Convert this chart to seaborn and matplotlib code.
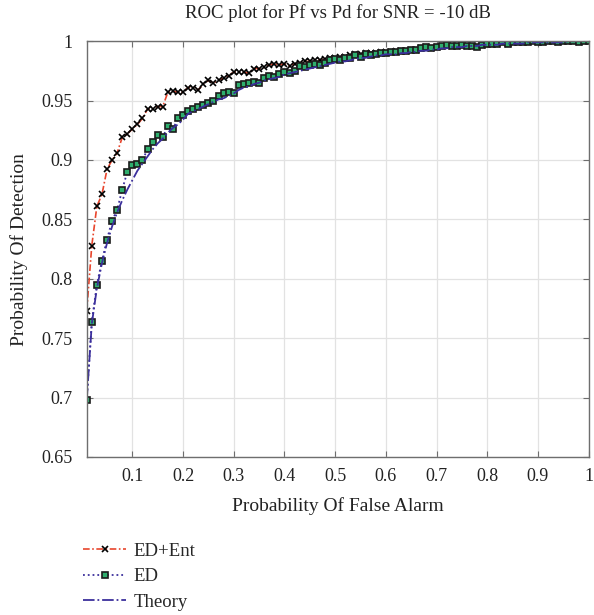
import matplotlib
matplotlib.use("Agg")
import matplotlib.pyplot as plt
import seaborn as sns
import pandas as pd
import numpy as np

# ---------------- data ----------------
pf = [round(0.01 * i, 2) for i in range(1, 101)]

pd_ed_ent = [
    0.773, 0.828, 0.861, 0.871, 0.892, 0.900, 0.906, 0.919, 0.922, 0.926,
    0.930, 0.935, 0.943, 0.943, 0.945, 0.945, 0.957, 0.958, 0.957, 0.957,
    0.961, 0.961, 0.959, 0.964, 0.967, 0.965, 0.967, 0.969, 0.971, 0.974,
    0.974, 0.974, 0.973, 0.977, 0.977, 0.978, 0.980, 0.981, 0.980, 0.981,
    0.979, 0.981, 0.982, 0.983, 0.983, 0.984, 0.984, 0.985, 0.986, 0.986,
    0.987, 0.987, 0.988, 0.989, 0.989, 0.990, 0.990, 0.990, 0.991, 0.991,
    0.991, 0.992, 0.992, 0.992, 0.993, 0.993, 0.994, 0.995, 0.994, 0.995,
    0.996, 0.997, 0.996, 0.996, 0.997, 0.996, 0.996, 0.996, 0.997, 0.998,
    0.998, 0.998, 0.999, 0.998, 0.999, 0.999, 0.999, 0.999, 1.000, 0.999,
    0.999, 1.000, 1.000, 0.999, 1.000, 1.000, 1.000, 0.999, 1.000, 1.000,
]

pd_ed = [
    0.698, 0.764, 0.795, 0.815, 0.833, 0.849, 0.858, 0.875, 0.890, 0.896,
    0.897, 0.900, 0.909, 0.915, 0.921, 0.919, 0.929, 0.926, 0.935, 0.938,
    0.941, 0.943, 0.945, 0.946, 0.948, 0.950, 0.954, 0.956, 0.957, 0.956,
    0.963, 0.964, 0.965, 0.966, 0.965, 0.969, 0.971, 0.970, 0.972, 0.974,
    0.973, 0.975, 0.979, 0.978, 0.980, 0.981, 0.980, 0.982, 0.984, 0.985,
    0.984, 0.986, 0.986, 0.988, 0.987, 0.989, 0.988, 0.989, 0.990, 0.990,
    0.991, 0.991, 0.992, 0.992, 0.993, 0.993, 0.994, 0.995, 0.994, 0.995,
    0.996, 0.997, 0.996, 0.996, 0.997, 0.996, 0.996, 0.995, 0.997, 0.998,
    0.998, 0.998, 0.999, 0.998, 0.999, 0.999, 0.999, 0.999, 1.000, 0.999,
    0.999, 1.000, 1.000, 0.999, 1.000, 1.000, 1.000, 0.999, 1.000, 1.000,
]

pd_theory = [
    0.698, 0.762, 0.792, 0.813, 0.830, 0.844, 0.856, 0.866, 0.875, 0.883,
    0.891, 0.897, 0.903, 0.909, 0.914, 0.918, 0.923, 0.927, 0.930, 0.934,
    0.939, 0.941, 0.943, 0.945, 0.947, 0.949, 0.951, 0.952, 0.954, 0.956,
    0.959, 0.961, 0.962, 0.964, 0.965, 0.967, 0.968, 0.969, 0.970, 0.972,
    0.973, 0.974, 0.975, 0.976, 0.977, 0.978, 0.979, 0.980, 0.981, 0.982,
    0.983, 0.983, 0.984, 0.985, 0.986, 0.986, 0.987, 0.988, 0.988, 0.989,
    0.989, 0.989, 0.990, 0.990, 0.991, 0.991, 0.992, 0.992, 0.993, 0.993,
    0.994, 0.994, 0.995, 0.995, 0.995, 0.996, 0.996, 0.996, 0.997, 0.997,
    0.997, 0.997, 0.998, 0.998, 0.998, 0.998, 0.998, 0.999, 0.999, 0.999,
    0.999, 0.999, 0.999, 0.999, 0.999, 1.000, 1.000, 1.000, 1.000, 1.000,
]

x_ticks = [0.1, 0.2, 0.3, 0.4, 0.5, 0.6, 0.7, 0.8, 0.9, 1.0]
x_tick_labels = ["0.1", "0.2", "0.3", "0.4", "0.5", "0.6", "0.7", "0.8", "0.9", "1"]
y_ticks = [0.65, 0.7, 0.75, 0.8, 0.85, 0.9, 0.95, 1.0]
y_tick_labels = ["0.65", "0.7", "0.75", "0.8", "0.85", "0.9", "0.95", "1"]

title = "ROC plot for Pf vs Pd for SNR = -10 dB"
xlabel = "Probability Of False Alarm"
ylabel = "Probability Of Detection"
labels = ["ED+Ent", "ED", "Theory"]

df = pd.DataFrame({"pf": pf, "ent": pd_ed_ent, "ed": pd_ed, "th": pd_theory})

# ---------------- style ----------------
sns.set_theme(style="whitegrid")
plt.rcParams["font.family"] = ["Liberation Serif", "DejaVu Serif"]

fig = plt.figure(figsize=(5.94, 6.15), dpi=100)
ax = fig.add_axes([0.146, 0.257, 0.845, 0.676])

red = "#e8452c"
blue = "#3b2f9c"
green = "#2fae6e"

sns.lineplot(data=df, x="pf", y="ent", ax=ax, color=red, linestyle=(0, (4, 1.5, 1, 1.5)),
             linewidth=1.2, marker="x", markersize=4.2, markeredgecolor="black",
             markeredgewidth=1.2, label=labels[0])
sns.lineplot(data=df, x="pf", y="ed", ax=ax, color=blue, linestyle=":", linewidth=1.3,
             marker="s", markersize=4.6, markerfacecolor=green, markeredgecolor="#1b1b1b",
             markeredgewidth=1.2, label=labels[1])
sns.lineplot(data=df, x="pf", y="th", ax=ax, color=blue, linestyle="-.", linewidth=1.3,
             label=labels[2])

ax.set_xlim(0.01, 1.0)
ax.set_ylim(0.65, 1.0)
ax.set_xticks(x_ticks)
ax.set_xticklabels(x_tick_labels)
ax.set_yticks(y_ticks)
ax.set_yticklabels(y_tick_labels)

ax.grid(True, color="#e2e2e2", linewidth=0.9)
for s in ax.spines.values():
    s.set_visible(True)
    s.set_color("#6e6e6e")
    s.set_linewidth(1.0)
ax.tick_params(direction="in", length=4, width=0.8, color="#6e6e6e",
               labelsize=13, labelcolor="#222222",
               top=True, right=True, bottom=True, left=True)
ax.tick_params(axis="y", pad=10)
ax.tick_params(axis="x", pad=8)

ax.set_title(title, fontsize=13.5, color="#222222", pad=17)
ax.set_xlabel(xlabel, fontsize=14, color="#222222", labelpad=9)
ax.set_ylabel(ylabel, fontsize=14, color="#222222", labelpad=10)

handles, labs = ax.get_legend_handles_labels()
ax.get_legend().remove()
fig.legend(handles, labs, loc="upper left", bbox_to_anchor=(0.14, 0.118),
           frameon=False, fontsize=13.5, handlelength=2.3, handletextpad=0.4,
           labelspacing=0.45, borderaxespad=0, borderpad=0)

fig.savefig("out.png", dpi=100, facecolor="white")
